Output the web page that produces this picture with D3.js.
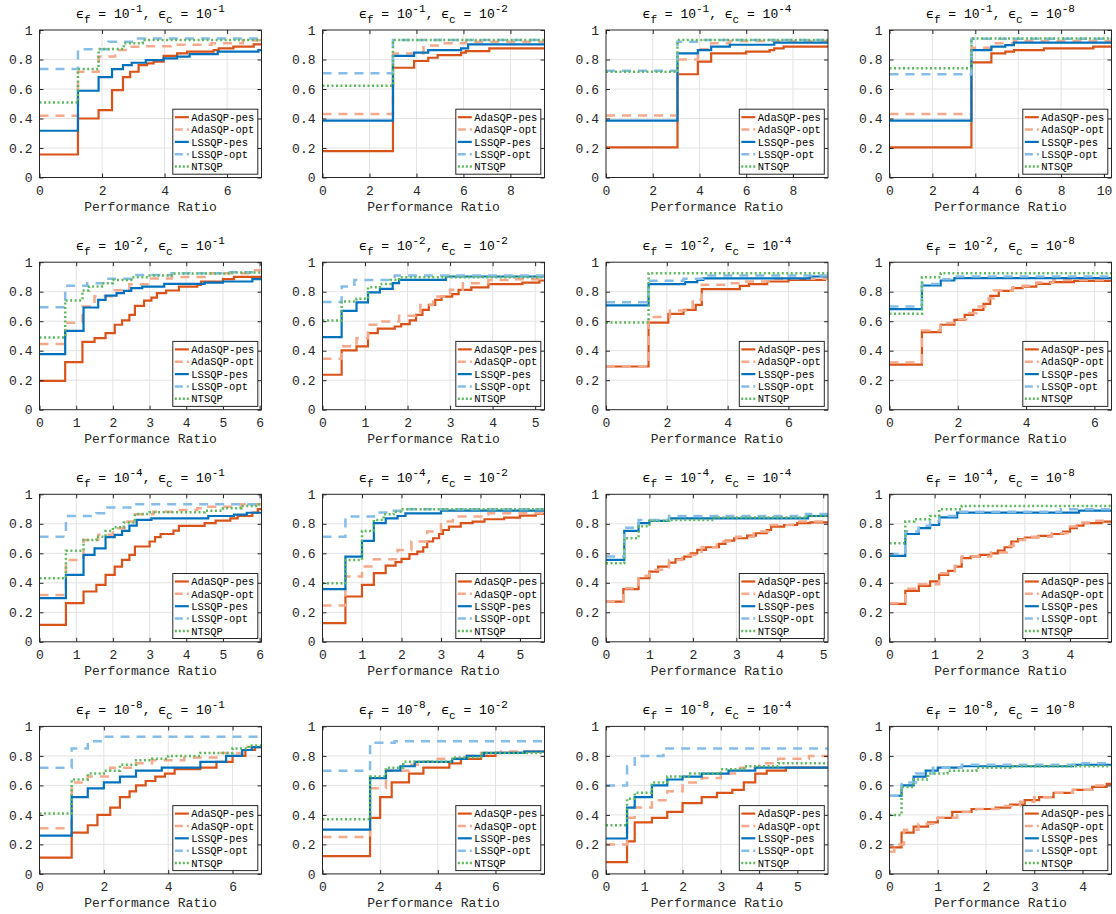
<!DOCTYPE html>
<html><head><meta charset="utf-8">
<script src="https://cdn.jsdelivr.net/npm/d3@7"></script>
<style>body{margin:0;background:#fff}svg{display:block}</style>
</head><body><svg id="c" width="1116" height="914"></svg>
<script>
// ---------- data ----------
const fExp = [1,1,1,1, 2,2,2,2, 4,4,4,4, 8,8,8,8];
const cExp = [1,2,4,8, 1,2,4,8, 1,2,4,8, 1,2,4,8];
const xMax = [7.1,9.45,9.5,10.35, 6.05,5.22,7.3,6.5, 6.05,5.62,5.11,4.92, 6.9,7.7,5.8,4.6];
const xStep = [2,2,2,2, 1,1,2,2, 1,1,1,1, 2,2,1,1];
const yTicks = [0,0.2,0.4,0.6,0.8,1];
const seriesNames = ["AdaSQP-pes","AdaSQP-opt","LSSQP-pes","LSSQP-opt","NTSQP"];
const xLabel = "Performance Ratio";

const adaPes = [
 [[0,0.156],[1.23,0.40],[1.89,0.457],[2.32,0.593],[2.67,0.68],[2.9,0.717],[3.17,0.762],[3.44,0.774],[3.65,0.785],[3.97,0.824],[4.4,0.842],[4.72,0.853],[5.57,0.864],[5.73,0.876],[6.2,0.887],[6.85,0.903]],
 [[0,0.179],[3.0,0.744],[3.9,0.79],[4.5,0.812],[4.9,0.83],[5.9,0.846],[6.1,0.857],[7.1,0.876]],
 [[0,0.204],[3.06,0.70],[3.93,0.785],[4.5,0.842],[6.0,0.853],[7.0,0.864],[7.2,0.876],[7.6,0.887]],
 [[0,0.204],[3.82,0.78],[4.75,0.842],[5.4,0.853],[5.8,0.864],[7.2,0.876],[9.5,0.887]],
 [[0,0.196],[0.7,0.323],[1.17,0.46],[1.5,0.485],[1.8,0.519],[2.05,0.576],[2.25,0.605],[2.45,0.643],[2.6,0.704],[2.85,0.74],[3.05,0.76],[3.2,0.79],[3.45,0.808],[3.8,0.835],[4.3,0.846],[4.4,0.869],[5.0,0.885],[5.3,0.9]],
 [[0,0.237],[0.45,0.402],[0.8,0.43],[1.07,0.519],[1.3,0.549],[1.7,0.564],[1.85,0.58],[2.05,0.605],[2.2,0.643],[2.35,0.677],[2.5,0.711],[2.65,0.745],[2.8,0.767],[3.05,0.783],[3.2,0.813],[3.5,0.83],[3.9,0.851],[4.7,0.862],[5.1,0.876]],
 [[0,0.293],[1.4,0.591],[2.05,0.65],[2.55,0.677],[2.95,0.711],[3.15,0.817],[4.4,0.84],[4.7,0.851],[5.3,0.869],[6.0,0.88],[7.2,0.887]],
 [[0,0.305],[0.95,0.526],[1.5,0.576],[1.9,0.609],[2.2,0.643],[2.45,0.677],[2.75,0.718],[2.95,0.772],[3.2,0.806],[3.6,0.824],[3.9,0.835],[4.3,0.853],[4.7,0.865],[5.4,0.874]],
 [[0,0.115],[0.72,0.262],[1.2,0.341],[1.55,0.386],[1.8,0.454],[2.05,0.51],[2.25,0.555],[2.45,0.589],[2.6,0.646],[3.0,0.68],[3.15,0.709],[3.3,0.731],[3.65,0.754],[3.8,0.786],[4.5,0.804],[4.8,0.822],[5.2,0.837],[5.4,0.853],[5.8,0.876],[5.95,0.9]],
 [[0,0.126],[0.58,0.307],[1.0,0.386],[1.3,0.465],[1.6,0.517],[1.85,0.54],[2.0,0.562],[2.2,0.594],[2.4,0.612],[2.55,0.641],[2.65,0.68],[2.8,0.702],[2.95,0.731],[3.05,0.758],[3.2,0.781],[3.5,0.804],[3.8,0.815],[4.1,0.831],[4.6,0.842],[5.0,0.856],[5.4,0.867]],
 [[0,0.273],[0.4,0.357],[0.75,0.431],[1.0,0.476],[1.2,0.51],[1.45,0.537],[1.6,0.56],[1.8,0.578],[1.95,0.6],[2.1,0.623],[2.3,0.641],[2.6,0.664],[2.75,0.686],[2.95,0.702],[3.25,0.72],[3.45,0.736],[3.7,0.758],[3.8,0.781],[4.1,0.792],[4.4,0.804],[4.7,0.81]],
 [[0,0.257],[0.35,0.345],[0.65,0.379],[0.9,0.409],[1.1,0.454],[1.3,0.481],[1.45,0.51],[1.6,0.567],[1.8,0.578],[2.0,0.589],[2.25,0.6],[2.4,0.618],[2.55,0.641],[2.7,0.68],[2.85,0.697],[3.0,0.707],[3.3,0.718],[3.6,0.731],[3.85,0.747],[4.0,0.77],[4.15,0.788],[4.3,0.804],[4.7,0.815]],
 [[0,0.11],[1.0,0.28],[1.5,0.33],[1.8,0.40],[2.2,0.45],[2.5,0.52],[2.8,0.56],[3.0,0.60],[3.3,0.63],[3.6,0.66],[3.9,0.68],[4.2,0.71],[5.0,0.72],[5.5,0.76],[6.0,0.80],[6.4,0.84],[6.7,0.86]],
 [[0,0.12],[1.65,0.38],[2.0,0.52],[2.4,0.62],[3.0,0.68],[3.5,0.72],[4.4,0.75],[4.8,0.78],[5.5,0.80],[6.0,0.82],[7.0,0.83]],
 [[0,0.08],[0.55,0.22],[0.75,0.35],[1.2,0.38],[1.6,0.42],[2.0,0.48],[2.5,0.52],[2.9,0.55],[3.3,0.57],[3.6,0.62],[3.9,0.68],[4.2,0.70],[4.7,0.72]],
 [[0,0.18],[0.25,0.28],[0.5,0.32],[0.8,0.35],[1.0,0.38],[1.3,0.42],[1.7,0.44],[2.2,0.45],[2.5,0.47],[2.8,0.50],[3.1,0.52],[3.4,0.55],[3.8,0.57],[4.2,0.59],[4.5,0.61]]
];
const adaOpt = [
 [[0,0.419],[1.23,0.717],[1.89,0.82],[2.42,0.864],[2.8,0.887],[3.2,0.89],[4.2,0.90],[5.5,0.91],[6.5,0.93]],
 [[0,0.43],[3.0,0.84],[4.3,0.895],[5.0,0.91],[6.1,0.92]],
 [[0,0.42],[3.06,0.80],[3.93,0.87],[4.5,0.91],[5.3,0.925]],
 [[0,0.43],[3.82,0.88],[4.75,0.91],[5.8,0.925]],
 [[0,0.445],[0.7,0.59],[1.17,0.70],[1.5,0.77],[2.0,0.81],[2.45,0.85],[3.0,0.89],[3.6,0.90],[4.5,0.925],[5.8,0.945]],
 [[0,0.345],[0.45,0.43],[0.8,0.485],[1.07,0.576],[1.35,0.598],[1.8,0.637],[2.3,0.71],[2.6,0.767],[3.0,0.813],[3.3,0.858],[3.9,0.88],[4.5,0.885]],
 [[0,0.293],[1.4,0.628],[2.1,0.673],[2.85,0.745],[3.15,0.847],[4.0,0.858],[4.4,0.869],[5.5,0.887]],
 [[0,0.32],[0.95,0.537],[1.5,0.587],[1.9,0.614],[2.25,0.655],[2.55,0.7],[2.9,0.756],[3.05,0.808],[3.6,0.83],[3.9,0.84],[4.3,0.862],[4.8,0.88]],
 [[0,0.318],[0.72,0.555],[1.2,0.69],[1.6,0.725],[2.0,0.77],[2.4,0.815],[2.6,0.865],[3.1,0.882],[3.7,0.894],[4.3,0.905],[4.6,0.916],[5.5,0.932]],
 [[0,0.246],[0.58,0.442],[1.0,0.51],[1.3,0.56],[1.9,0.623],[2.25,0.68],[2.65,0.747],[3.0,0.815],[3.3,0.849],[4.2,0.871]],
 [[0,0.273],[0.4,0.363],[0.75,0.447],[1.0,0.488],[1.45,0.555],[1.75,0.589],[2.2,0.641],[2.55,0.68],[3.0,0.713],[3.4,0.747],[3.75,0.792],[4.3,0.815]],
 [[0,0.262],[0.35,0.359],[0.65,0.391],[1.1,0.465],[1.45,0.515],[1.6,0.578],[2.25,0.605],[2.6,0.65],[2.75,0.69],[3.0,0.713],[3.6,0.736],[4.0,0.781],[4.2,0.808],[4.5,0.82]],
 [[0,0.31],[1.0,0.62],[1.5,0.66],[2.2,0.72],[3.0,0.75],[3.5,0.77],[4.5,0.79],[5.5,0.82],[6.3,0.86]],
 [[0,0.25],[1.65,0.58],[2.2,0.70],[3.0,0.74],[3.3,0.76],[4.0,0.78],[5.0,0.80],[5.5,0.82],[6.2,0.83]],
 [[0,0.20],[0.55,0.38],[0.75,0.45],[1.2,0.50],[1.6,0.56],[2.0,0.62],[2.5,0.65],[3.0,0.68],[3.5,0.72],[4.0,0.75],[4.5,0.78],[5.3,0.80]],
 [[0,0.15],[0.1,0.20],[0.3,0.30],[0.6,0.34],[1.0,0.38],[1.4,0.42],[1.8,0.44],[2.3,0.46],[2.7,0.49],[3.0,0.52],[3.4,0.55],[3.8,0.57],[4.2,0.60]]
];
const lsPes = [
 [[0,0.317],[1.23,0.588],[1.89,0.68],[2.32,0.735],[2.67,0.762],[2.95,0.778],[3.4,0.796],[3.97,0.808],[4.4,0.819],[4.8,0.837],[5.7,0.853],[7.0,0.864]],
 [[0,0.385],[3.0,0.824],[3.9,0.846],[4.5,0.864],[5.9,0.876],[6.2,0.903]],
 [[0,0.385],[3.06,0.842],[3.93,0.864],[4.5,0.887],[5.3,0.90],[7.2,0.914]],
 [[0,0.385],[3.82,0.864],[4.75,0.887],[5.4,0.898],[5.8,0.914]],
 [[0,0.377],[0.7,0.535],[1.2,0.693],[1.6,0.745],[1.8,0.774],[2.1,0.79],[2.3,0.806],[2.5,0.824],[2.8,0.835],[3.4,0.853],[4.5,0.862],[5.0,0.869],[5.8,0.885]],
 [[0,0.492],[0.45,0.67],[0.8,0.727],[1.07,0.795],[1.35,0.819],[1.65,0.858],[1.8,0.88],[2.9,0.903]],
 [[0,0.707],[1.4,0.851],[2.6,0.865],[3.0,0.88],[3.2,0.89],[6.7,0.903]],
 [[0,0.682],[0.95,0.842],[1.5,0.876],[1.9,0.892]],
 [[0,0.296],[0.72,0.454],[1.2,0.589],[1.5,0.634],[1.8,0.709],[2.05,0.725],[2.25,0.752],[2.45,0.788],[2.65,0.826],[3.05,0.837],[4.6,0.853],[5.3,0.862],[5.65,0.875]],
 [[0,0.357],[0.58,0.578],[1.0,0.684],[1.3,0.804],[1.6,0.837],[1.9,0.853],[2.1,0.871],[3.0,0.889]],
 [[0,0.555],[0.42,0.752],[0.75,0.804],[1.0,0.82],[1.45,0.837],[4.65,0.853]],
 [[0,0.582],[0.35,0.731],[0.65,0.77],[0.9,0.792],[1.1,0.844],[1.5,0.876],[4.2,0.889]],
 [[0,0.26],[1.0,0.52],[1.5,0.58],[2.0,0.62],[2.5,0.66],[3.0,0.70],[3.8,0.72],[5.0,0.76],[5.8,0.80],[6.3,0.84],[6.6,0.86]],
 [[0,0.30],[1.65,0.65],[2.2,0.70],[2.7,0.73],[3.2,0.76],[4.5,0.78],[5.0,0.80],[5.6,0.82],[7.0,0.83]],
 [[0,0.24],[0.55,0.45],[0.75,0.52],[1.2,0.60],[1.6,0.64],[2.0,0.66],[2.5,0.68],[3.2,0.70],[3.9,0.72]],
 [[0,0.53],[0.25,0.60],[0.5,0.66],[0.75,0.70],[1.0,0.72],[1.5,0.73],[3.8,0.74]]
];
const lsOpt = [
 [[0,0.735],[1.23,0.87],[2.2,0.92],[3.0,0.943]],
 [[0,0.706],[3.0,0.932]],
 [[0,0.724],[3.06,0.92],[4.0,0.932]],
 [[0,0.70],[3.82,0.94]],
 [[0,0.695],[0.7,0.84],[1.3,0.858],[1.8,0.887],[2.5,0.914],[3.6,0.925],[5.1,0.932]],
 [[0,0.73],[0.45,0.835],[0.75,0.88],[1.7,0.91]],
 [[0,0.729],[1.4,0.874],[2.55,0.887],[3.2,0.91]],
 [[0,0.70],[0.95,0.853],[1.5,0.885],[1.9,0.903]],
 [[0,0.713],[0.72,0.853],[1.55,0.871],[1.85,0.91],[2.6,0.932]],
 [[0,0.713],[0.58,0.849],[1.3,0.876],[1.7,0.889],[2.0,0.898]],
 [[0,0.578],[0.42,0.774],[0.75,0.826],[1.45,0.853],[4.6,0.867]],
 [[0,0.596],[0.35,0.747],[0.65,0.786],[0.9,0.815],[1.1,0.853],[1.5,0.882],[3.8,0.898]],
 [[0,0.72],[1.0,0.85],[1.5,0.90],[2.0,0.93]],
 [[0,0.70],[1.65,0.89],[2.5,0.90]],
 [[0,0.60],[0.55,0.73],[0.75,0.80],[1.5,0.85]],
 [[0,0.53],[0.25,0.62],[0.55,0.68],[0.9,0.72],[1.5,0.74],[4.0,0.75]]
];
const ntsqp = [
 [[0,0.509],[1.23,0.735],[1.89,0.871],[2.7,0.91],[3.3,0.932]],
 [[0,0.622],[3.0,0.932]],
 [[0,0.717],[3.06,0.932]],
 [[0,0.74],[3.82,0.943]],
 [[0,0.49],[0.7,0.74],[1.17,0.808],[1.35,0.835],[1.7,0.858],[2.0,0.88],[2.5,0.898],[3.0,0.91],[3.6,0.923],[5.2,0.93]],
 [[0,0.605],[0.45,0.734],[0.8,0.752],[1.07,0.83],[1.35,0.853],[1.6,0.88],[1.8,0.898]],
 [[0,0.591],[1.4,0.925]],
 [[0,0.65],[0.95,0.898],[1.5,0.925]],
 [[0,0.431],[0.72,0.618],[1.2,0.69],[1.55,0.713],[1.8,0.752],[2.0,0.776],[2.3,0.808],[2.6,0.867],[3.0,0.878],[4.5,0.889],[5.0,0.905],[5.5,0.921],[5.9,0.932]],
 [[0,0.397],[0.58,0.555],[1.0,0.752],[1.3,0.826],[1.55,0.864],[1.8,0.882],[2.0,0.898]],
 [[0,0.533],[0.42,0.702],[0.75,0.783],[1.0,0.82],[1.45,0.826],[2.5,0.842],[4.6,0.853]],
 [[0,0.668],[0.35,0.815],[0.55,0.831],[0.9,0.853],[1.1,0.898],[1.6,0.921]],
 [[0,0.41],[1.0,0.64],[1.5,0.68],[2.0,0.70],[2.5,0.74],[3.0,0.77],[3.5,0.78],[4.0,0.80],[5.0,0.82],[6.0,0.85],[6.5,0.87]],
 [[0,0.37],[1.65,0.66],[2.2,0.72],[2.8,0.76],[4.5,0.79],[5.5,0.82]],
 [[0,0.33],[0.55,0.51],[0.75,0.55],[1.2,0.62],[1.6,0.66],[2.2,0.68],[3.0,0.71],[3.6,0.73],[4.5,0.75]],
 [[0,0.40],[0.25,0.59],[0.5,0.64],[0.8,0.68],[1.2,0.70],[1.8,0.72],[2.5,0.73]]
];

// ---------- styles / layout ----------
const allSeries = [adaPes, adaOpt, lsPes, lsOpt, ntsqp];
const styles = [
  {color:"#D95319", width:2.2, dash:null},
  {color:"#F3A98B", width:2.5, dash:"9,7"},
  {color:"#0072BD", width:2.2, dash:null},
  {color:"#85BDE6", width:2.5, dash:"9,7"},
  {color:"#5CB85C", width:2.5, dash:"2,2.5"}
];
const lefts = [39.5, 322.5, 606, 889.5];
const tops = [30, 262.2, 494.3, 726.4];
const W = 222, H = 147.5;
const FONT = "'Liberation Mono','Courier New',monospace";
const ink = "#262626";

const svg = d3.select("#c");
const defs = svg.append("defs");

for (let k = 0; k < 16; k++) {
  const row = Math.floor(k/4), col = k % 4;
  const g = svg.append("g").attr("transform", `translate(${lefts[col]},${tops[row]})`);
  const x = d3.scaleLinear().domain([0, xMax[k]]).range([0, W]);
  const y = d3.scaleLinear().domain([0, 1]).range([H, 0]);
  const xt = d3.range(0, xMax[k] + 1e-9, xStep[k]);

  defs.append("clipPath").attr("id", "cp" + k)
    .append("rect").attr("x", 0).attr("y", 0).attr("width", W).attr("height", H);

  // grid
  g.append("g").selectAll("line").data(xt.slice(1)).join("line")
    .attr("x1", d => x(d)).attr("x2", d => x(d)).attr("y1", 0).attr("y2", H)
    .attr("stroke", "#e3e3e3").attr("stroke-width", 1);
  g.append("g").selectAll("line").data(yTicks.slice(1, -1)).join("line")
    .attr("y1", d => y(d)).attr("y2", d => y(d)).attr("x1", 0).attr("x2", W)
    .attr("stroke", "#e3e3e3").attr("stroke-width", 1);

  // series
  const line = d3.line().x(d => x(d[0])).y(d => y(d[1])).curve(d3.curveStepAfter);
  const lg = g.append("g").attr("clip-path", `url(#cp${k})`);
  allSeries.forEach((s, i) => {
    const pts = s[k].slice();
    pts.push([xMax[k], pts[pts.length - 1][1]]);
    const p = lg.append("path").attr("d", line(pts)).attr("fill", "none")
      .attr("stroke", styles[i].color).attr("stroke-width", styles[i].width);
    if (styles[i].dash) p.attr("stroke-dasharray", styles[i].dash);
  });

  // axes with inward ticks on all sides
  const ax = d3.axisBottom(x).tickValues(xt).tickSize(-4).tickPadding(8).tickFormat(d3.format("d"));
  const axB = g.append("g").attr("transform", `translate(0,${H})`).call(ax);
  const axT = g.append("g").call(d3.axisTop(x).tickValues(xt).tickSize(-4).tickFormat(""));
  const ay = d3.axisLeft(y).tickValues(yTicks).tickSize(-4).tickPadding(7).tickFormat(d => d === 0 ? "0" : d === 1 ? "1" : d3.format(".1f")(d));
  const axL = g.append("g").call(ay);
  const axR = g.append("g").attr("transform", `translate(${W},0)`).call(d3.axisRight(y).tickValues(yTicks).tickSize(-4).tickFormat(""));
  [axB, axT, axL, axR].forEach(a => {
    a.selectAll(".domain").remove();
    a.selectAll("line").attr("stroke", ink);
    a.selectAll("text").attr("font-family", FONT).attr("font-size", 13).attr("fill", ink);
  });
  axB.selectAll("text").attr("dy", "0.71em");
  g.append("rect").attr("x", 0).attr("y", 0).attr("width", W).attr("height", H)
    .attr("fill", "none").attr("stroke", ink).attr("stroke-width", 1);

  // x label
  g.append("text").attr("x", W/2).attr("y", H + 33).attr("text-anchor", "middle")
    .attr("font-family", FONT).attr("font-size", 13).attr("fill", ink).text(xLabel);

  // title
  const t = g.append("text").attr("x", W/2).attr("y", -12).attr("text-anchor", "middle")
    .attr("font-family", FONT).attr("font-size", 13).attr("fill", "#000");
  t.append("tspan").text("ϵ");
  t.append("tspan").attr("dy", 5).attr("font-size", 11).text("f");
  t.append("tspan").attr("dy", -5).text(" = 10");
  t.append("tspan").attr("dy", -6).attr("font-size", 11).text("-" + fExp[k]);
  t.append("tspan").attr("dy", 6).text(", ϵ");
  t.append("tspan").attr("dy", 5).attr("font-size", 11).text("c");
  t.append("tspan").attr("dy", -5).text(" = 10");
  t.append("tspan").attr("dy", -6).attr("font-size", 11).text("-" + cExp[k]);

  // legend
  const lw = 85, lh = 65;
  const L = g.append("g").attr("transform", `translate(${W - lw - 3.7},${H - lh - 3.3})`);
  L.append("rect").attr("width", lw).attr("height", lh).attr("fill", "#fff")
    .attr("stroke", ink).attr("stroke-width", 1);
  seriesNames.forEach((nm, i) => {
    const cy = 8 + i * 12.35;
    const ln = L.append("line").attr("x1", 2).attr("x2", 16).attr("y1", cy).attr("y2", cy)
      .attr("stroke", styles[i].color).attr("stroke-width", styles[i].width);
    if (styles[i].dash) ln.attr("stroke-dasharray", i === 4 ? "2,2" : "8,4");
    L.append("text").attr("x", 18.5).attr("y", cy).attr("dy", "0.35em")
      .attr("font-family", FONT).attr("font-size", 10.5).attr("fill", "#000").text(nm);
  });
}
</script></body></html>
